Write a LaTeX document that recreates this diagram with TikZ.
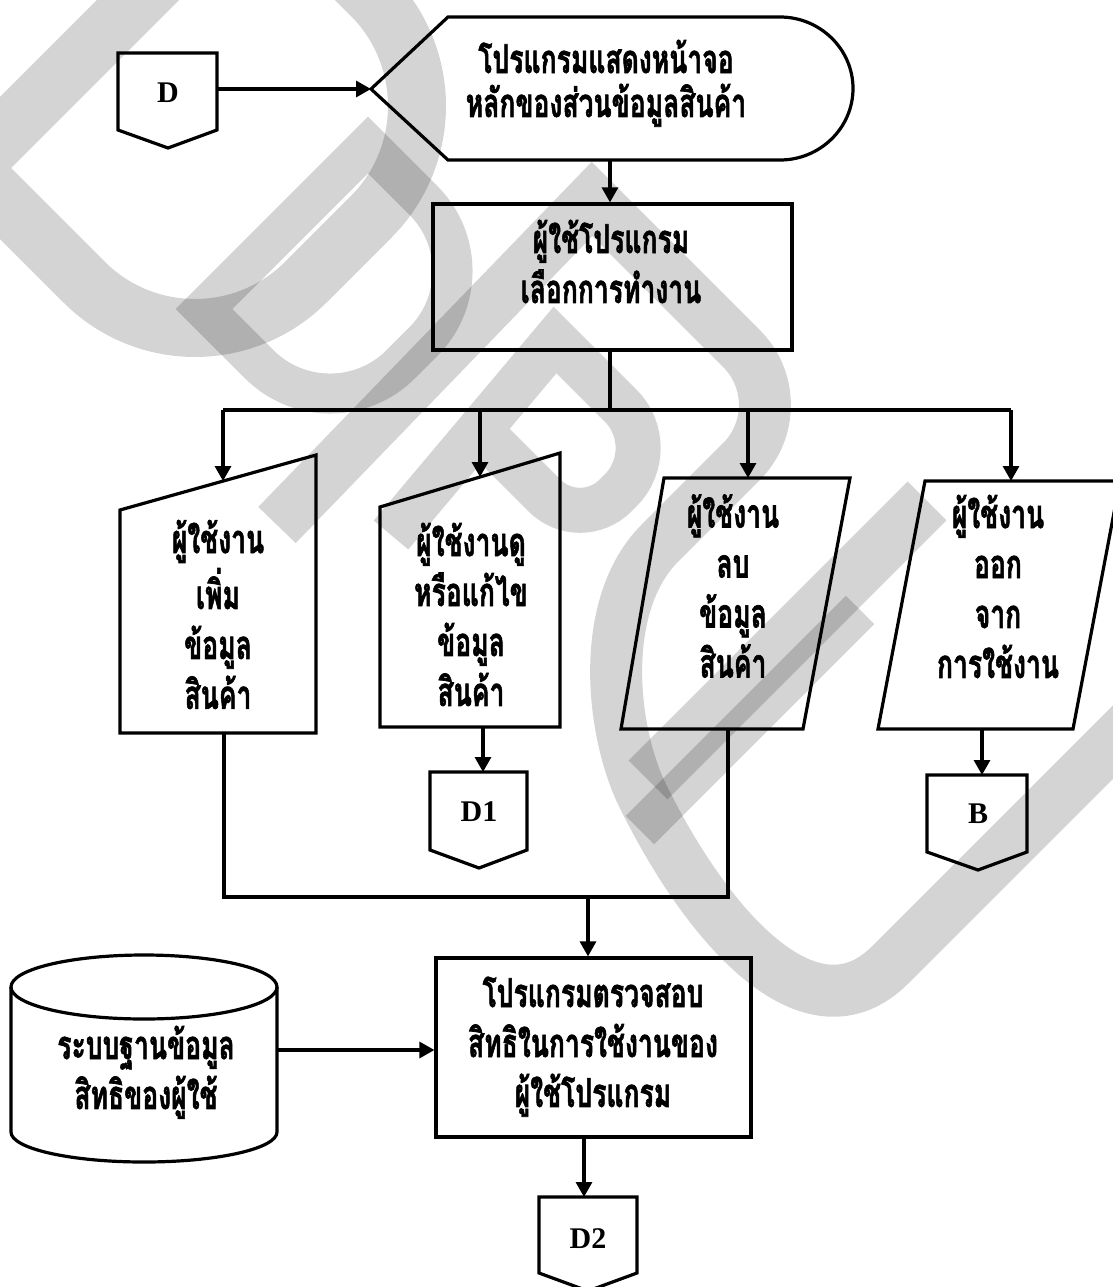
\documentclass[tikz,border=0pt]{standalone}
\usepackage{fontspec}
\usepackage{graphicx}
\usetikzlibrary{arrows.meta}
\newfontfamily\thaifont[Script=Thai, BoldFeatures={FakeBold=1.8}]{Loma}
\newfontfamily\latinserif{Liberation Serif}
% stacked, vertically stretched lines of Thai text
\newcommand\tlines[1]{\scalebox{1}[1.5]{\begin{tabular}{@{}c@{}}#1\end{tabular}}}

\begin{document}
\begin{tikzpicture}[x=1pt,y=-1pt,
  outline/.style={draw=black, line width=3.2pt, line join=miter},
  flow/.style={draw=black, line width=3.2pt, -{Triangle[length=15pt,width=16pt]}},
  wire/.style={draw=black, line width=3.2pt},
  thai/.style={font=\thaifont\bfseries\fontsize{26.5}{33.3}\selectfont, inner sep=0pt},
  conn/.style={font=\latinserif\bfseries\fontsize{30}{34}\selectfont, inner sep=0pt},
  wm/.style={draw=black, draw opacity=0.17, line join=miter, line cap=butt}]

\fill[white] (0,0) rectangle (1113,1287);
\useasboundingbox (0,0) rectangle (1113,1287);

% ---------- off-page connector D and display ----------
\draw[outline] (118,53) -- (217,53) -- (217,130) -- (168,148) -- (118,130) -- cycle;
\node[conn] (lblD) at (168,93) {D};
\coordinate (dOut) at (217,89);

\coordinate (dispTip) at (371,89);
\draw[outline] (dispTip) -- (448,17) -- (780,17)
  .. controls (820,17) and (853,49) .. (853,88.5)
  .. controls (853,128) and (820,160) .. (780,160) -- (448,160) -- cycle;
\node[thai] (dispTxt) at (606,85) {\tlines{โปรแกรมแสดงหน้าจอ\\[-4pt]หลักของส่วนข้อมูลสินค้า}};
\coordinate (dispBot) at (610,160);
\draw[flow] (dOut) -- (dispTip);

% ---------- choose operation ----------
\node[outline, minimum width=359pt, minimum height=146pt, inner sep=0pt] (sel) at (612.5,277) {};
\node[thai] (selTxt) at (611,268) {\tlines{ผู้ใช้โปรแกรม\\เลือกการทำงาน}};
\draw[flow] (dispBot) -- (dispBot |- sel.north);

\coordinate (bus) at (610,410);
\coordinate (busA) at (223,410);
\coordinate (busB) at (480,410);
\coordinate (busC) at (748,410);
\coordinate (busD) at (1011,410);
\draw[wire] (bus |- sel.south) -- (bus);
\draw[wire] (busA) -- (busD);

% ---------- four manual-input / data boxes ----------
\draw[outline] (120,510) -- (316,455) -- (316,733) -- (120,733) -- cycle;
\node[thai] (aTxt) at (218,621) {\tlines{ผู้ใช้งาน\\เพิ่ม\\ข้อมูล\\สินค้า}};
\coordinate (aTop) at (223,481);
\coordinate (aBot) at (224,733);

\draw[outline] (380,507) -- (560,453) -- (560,727) -- (380,727) -- cycle;
\node[thai] (bTxt) at (471,621) {\tlines{ผู้ใช้งานดู\\หรือแก้ไข\\ข้อมูล\\สินค้า}};
\coordinate (bTop) at (480,477);
\coordinate (bBot) at (483,727);

\draw[outline] (664,478) -- (850,478) -- (803,729) -- (621,729) -- cycle;
\node[thai] (cTxt) at (733,592.5) {\tlines{ผู้ใช้งาน\\ลบ\\ข้อมูล\\สินค้า}};
\coordinate (cTop) at (748,478);
\coordinate (cBot) at (728,729);

\draw[outline] (925,481) -- (1120,481) -- (1073,729) -- (878,729) -- cycle;
\node[thai] (dTxt) at (998,593) {\tlines{ผู้ใช้งาน\\ออก\\จาก\\การใช้งาน}};
\coordinate (dTop) at (1011,481);
\coordinate (dBot) at (982,729);

\draw[flow] (busA) -- (aTop);
\draw[flow] (busB) -- (bTop);
\draw[flow] (busC) -- (cTop);
\draw[flow] (busD) -- (dTop);

% ---------- off-page connectors D1 and B ----------
\draw[outline] (430,772) -- (527,772) -- (527,850) -- (479,868) -- (430,850) -- cycle;
\node[conn] (lblD1) at (479,812) {D1};
\coordinate (d1Top) at (483,772);
\draw[flow] (bBot) -- (d1Top);

\draw[outline] (927,775) -- (1027,775) -- (1027,852) -- (978,870) -- (927,852) -- cycle;
\node[conn] (lblB) at (978,814) {B};
\coordinate (bcTop) at (982,775);
\draw[flow] (dBot) -- (bcTop);

% ---------- merge into permission check ----------
\coordinate (mA) at (224,897);
\coordinate (mC) at (728,897);
\coordinate (mIn) at (588,897);
\draw[wire] (aBot) -- (mA) -- (mC) -- (cBot);

\node[outline, minimum width=315pt, minimum height=179pt, inner sep=0pt] (chk) at (593.5,1047.5) {};
\node[thai] (chkTxt) at (593,1047) {\tlines{โปรแกรมตรวจสอบ\\สิทธิในการใช้งานของ\\ผู้ใช้โปรแกรม}};
\draw[flow] (mIn) -- (mIn |- chk.north);

% ---------- permission database ----------
\draw[outline] (11,987) -- (11,1132) .. controls (11,1148.6) and (70.5,1162) .. (144,1162)
  .. controls (217.5,1162) and (277,1148.6) .. (277,1132) -- (277,987);
\draw[outline] (144,987) ellipse [x radius=133, y radius=32];
\node[thai] (dbTxt) at (146,1074) {\tlines{ระบบฐานข้อมูล\\สิทธิของผู้ใช้}};
\coordinate (dbOut) at (277,1050);
\draw[flow] (dbOut) -- (dbOut -| chk.west);

% ---------- off-page connector D2 ----------
\draw[outline] (539,1197) -- (637,1197) -- (637,1273) -- (588,1291) -- (539,1273) -- cycle;
\node[conn] (lblD2) at (588,1239) {D2};
\coordinate (d2Top) at (584,1197);
\draw[flow] (d2Top |- chk.south) -- (d2Top);

% ---------- translucent watermark strokes ----------
\path[wm, line width=58pt] (257,-119) -- (-30,168) -- (84,282)
  .. controls (145.3,343.3) and (244.7,343.3) .. (306,282) -- (371,217)
  .. controls (432.3,155.7) and (432.3,56.3) .. (371,-5) -- cycle;
\path[wm, line width=40pt] (368,145) -- (204,309) -- (259.3,364.3)
  .. controls (298.3,403.3) and (361.7,403.3) .. (400.7,364.3) -- (423.3,341.7)
  .. controls (462.3,302.7) and (462.3,239.3) .. (423.3,200.3) -- cycle;
\path[wm, line width=52pt] (277,525) -- (592,199) -- (741.4,348.4)
  .. controls (772.7,379.7) and (772.7,430.3) .. (741.4,461.6) -- (660,543)
  .. controls (600,603) and (610,723) .. (640,790)
  .. controls (705,925) and (810,1045) .. (890,965) -- (1250,605);
\path[wm, line width=55pt] (927,501) -- (648,780);
\path[wm, line width=40pt] (860,610) -- (640,830);
\path[wm, line width=45pt] (391,535) -- (555,340) -- (620.6,405.6)
  .. controls (644,429) and (644,467) .. (620.6,490.4) -- (615.4,495.6)
  .. controls (595.8,515.2) and (564.2,515.2) .. (544.6,495.6) -- (470,421);
\end{tikzpicture}
\end{document}
